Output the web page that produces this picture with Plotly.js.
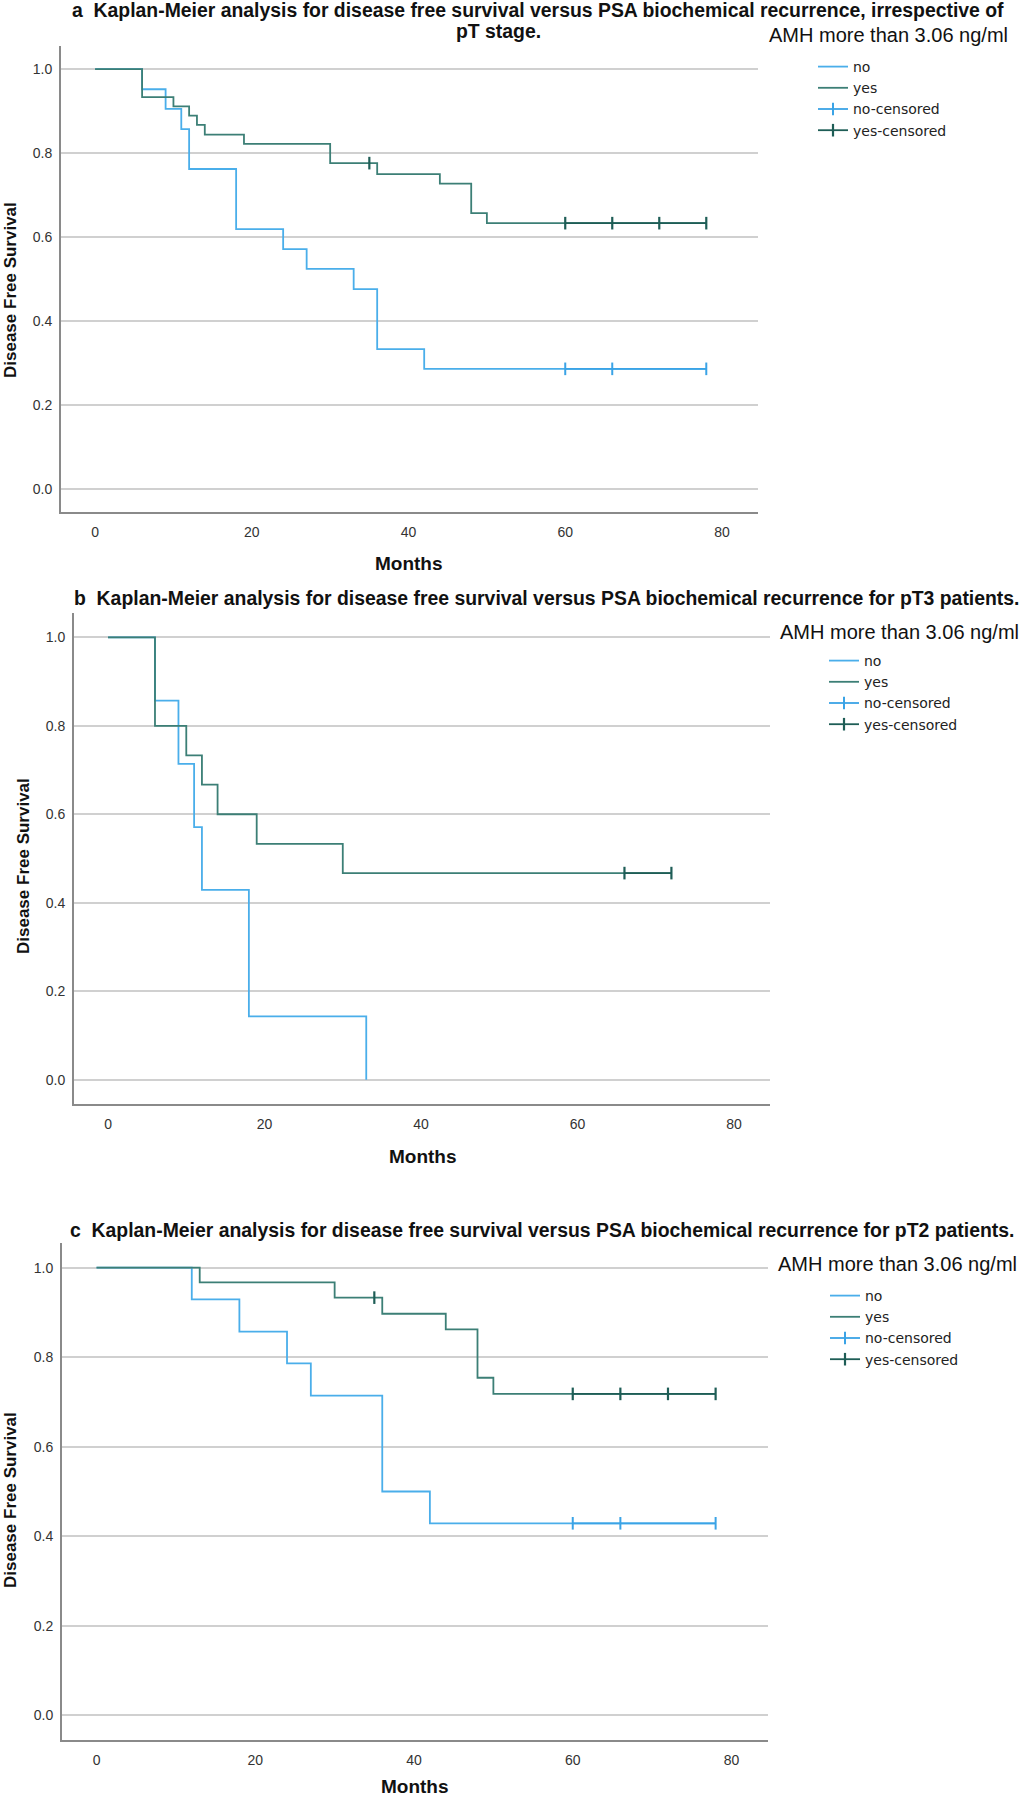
<!DOCTYPE html>
<html><head><meta charset="utf-8">
<script src="https://cdn.plot.ly/plotly-3.0.1.min.js"></script>
<style>body{margin:0;background:#fff}</style>
</head><body><div id="chart" style="width:1023px;height:1800px"></div>
<script>
// ---------- DATA ----------
// Panel a: irrespective of pT stage
const aNoTimes  = [6, 9, 11, 12, 18, 24, 27, 33, 36, 42];
const aNoSurv   = [0.952, 0.905, 0.857, 0.762, 0.619, 0.571, 0.524, 0.476, 0.333, 0.286];
const aNoCens   = [60, 66, 78];
const aYesTimes = [6, 10, 12, 13, 14, 19, 30, 36, 44, 48, 50];
const aYesSurv  = [0.933, 0.911, 0.889, 0.867, 0.844, 0.822, 0.776, 0.750, 0.727, 0.657, 0.633];
const aYesCens  = [35, 60, 66, 72, 78];
// Panel b: pT3 patients
const bNoTimes  = [6, 9, 11, 12, 18, 33];
const bNoSurv   = [0.857, 0.714, 0.571, 0.429, 0.143, 0.0];
const bNoCens   = [];
const bYesTimes = [6, 10, 12, 14, 19, 30];
const bYesSurv  = [0.800, 0.733, 0.667, 0.600, 0.533, 0.467];
const bYesCens  = [66, 72];
// Panel c: pT2 patients
const cNoTimes  = [12, 18, 24, 27, 36, 42];
const cNoSurv   = [0.929, 0.857, 0.786, 0.714, 0.500, 0.429];
const cNoCens   = [60, 66, 78];
const cYesTimes = [13, 30, 36, 44, 48, 50];
const cYesSurv  = [0.967, 0.933, 0.897, 0.862, 0.754, 0.718];
const cYesCens  = [35, 60, 66, 72, 78];

const xTicks = [0, 20, 40, 60, 80];
const yTicks = [0.0, 0.2, 0.4, 0.6, 0.8, 1.0];
const yTickText = ['0.0', '0.2', '0.4', '0.6', '0.8', '1.0'];
const groupNames = ['no', 'yes', 'no-censored', 'yes-censored'];
const legendTitle = 'AMH more than 3.06 ng/ml';
const titles = [
  'a\u00a0 Kaplan-Meier analysis for disease free survival versus PSA biochemical recurrence, irrespective of',
  'pT stage.',
  'b\u00a0 Kaplan-Meier analysis for disease free survival versus PSA biochemical recurrence for pT3 patients.',
  'c\u00a0 Kaplan-Meier analysis for disease free survival versus PSA biochemical recurrence for pT2 patients.'
];

// ---------- HELPERS ----------
const W = 1023, H = 1800;
const BLUE = '#4aaeea', GREEN = '#3c7f76', BLUE_C = '#3aa3e6', GREEN_C = '#1e5d56';

function survAt(times, surv, t) {
  let s = 1;
  for (let i = 0; i < times.length; i++) if (times[i] <= t) s = surv[i];
  return s;
}
function stepXY(times, surv, cens) {
  const x = [0].concat(times), y = [1].concat(surv);
  const lastT = times[times.length - 1];
  const end = cens.length ? Math.max.apply(null, cens) : lastT;
  if (end > lastT) { x.push(end); y.push(surv[surv.length - 1]); }
  return {x, y};
}
function censXY(times, surv, cens) {
  const x = [], y = [];
  let prev = null;
  cens.forEach(t => {
    const s = survAt(times, surv, t);
    if (prev !== null && s !== prev) { x.push(null); y.push(null); }
    x.push(t); y.push(s); prev = s;
  });
  return {x, y};
}

const traces = [];
function addPanel(idx, noT, noS, noC, yesT, yesS, yesC) {
  const xa = idx === 1 ? 'x' : 'x' + idx, ya = idx === 1 ? 'y' : 'y' + idx;
  const lg = idx === 1 ? 'legend' : 'legend' + idx;
  const sn = stepXY(noT, noS, noC), sy = stepXY(yesT, yesS, yesC);
  const cn = censXY(noT, noS, noC), cy = censXY(yesT, yesS, yesC);
  traces.push({x: sn.x, y: sn.y, xaxis: xa, yaxis: ya, legend: lg, name: groupNames[0], mode: 'lines',
    line: {shape: 'hv', color: BLUE, width: 1.8}, hoverinfo: 'x+y'});
  traces.push({x: sy.x, y: sy.y, xaxis: xa, yaxis: ya, legend: lg, name: groupNames[1], mode: 'lines',
    line: {shape: 'hv', color: GREEN, width: 1.8}, hoverinfo: 'x+y'});
  traces.push({x: cn.x.length ? cn.x : [null], y: cn.y.length ? cn.y : [null], xaxis: xa, yaxis: ya, legend: lg,
    name: groupNames[2], mode: 'lines+markers', connectgaps: false,
    line: {color: BLUE_C, width: 1.8}, marker: {symbol: 'line-ns', size: 9, line: {color: BLUE_C, width: 2}}});
  traces.push({x: cy.x, y: cy.y, xaxis: xa, yaxis: ya, legend: lg,
    name: groupNames[3], mode: 'lines+markers', connectgaps: false,
    line: {color: GREEN_C, width: 1.8}, marker: {symbol: 'line-ns', size: 9, line: {color: GREEN_C, width: 2.2}}});
}
addPanel(1, aNoTimes, aNoSurv, aNoCens, aYesTimes, aYesSurv, aYesCens);
addPanel(2, bNoTimes, bNoSurv, bNoCens, bYesTimes, bYesSurv, bYesCens);
addPanel(3, cNoTimes, cNoSurv, cNoCens, cYesTimes, cYesSurv, cYesCens);

const FONT = 'Liberation Sans, Arial, sans-serif';
function xAxis(l, r, anchor) {
  return {domain: [l / W, r / W], anchor: anchor, range: [-4.35, 84.6], tickvals: xTicks,
    showgrid: false, zeroline: false, showline: true, linecolor: '#8a8a8a', linewidth: 2,
    ticks: '', ticklabelstandoff: 6, tickfont: {family: FONT, size: 14, color: '#333'}, fixedrange: true};
}
function yAxis(top, bot, anchor) {
  return {domain: [1 - bot / H, 1 - top / H], anchor: anchor, range: [-0.055, 1.055], tickvals: yTicks, ticktext: yTickText,
    showgrid: true, gridcolor: '#d0d0d0', gridwidth: 2, zeroline: false, showline: true, linecolor: '#8a8a8a', linewidth: 2,
    ticks: '', ticklabelstandoff: 4, tickfont: {family: FONT, size: 14, color: '#333'}, fixedrange: true};
}
function legendAt(px, py) {
  return {x: px / W, y: 1 - py / H, xanchor: 'left', yanchor: 'top', bgcolor: 'rgba(0,0,0,0)',
    font: {family: 'DejaVu Sans, sans-serif', size: 14, color: '#222'}, tracegroupgap: 0, itemwidth: 30};
}
function ann(text, px, py, o) {
  return Object.assign({text: text, xref: 'paper', yref: 'paper', x: px / W, y: 1 - py / H,
    xanchor: 'center', yanchor: 'middle', showarrow: false,
    font: {family: FONT, size: 19, color: '#111'}}, o || {});
}
const bold = (s) => ({family: FONT, size: s, color: '#111', weight: 'bold'});
const amhFont = {family: FONT, size: 20, color: '#111'};

const layout = {
  width: W, height: H, margin: {l: 0, r: 0, t: 0, b: 0},
  paper_bgcolor: '#fff', plot_bgcolor: '#fff', showlegend: true,
  xaxis: xAxis(61, 758, 'y'), yaxis: yAxis(46, 512, 'x'),
  xaxis2: xAxis(74, 770, 'y2'), yaxis2: yAxis(613, 1104, 'x2'),
  xaxis3: xAxis(62, 768, 'y3'), yaxis3: yAxis(1243, 1740, 'x3'),
  legend: legendAt(813, 51), legend2: legendAt(824, 645), legend3: legendAt(825, 1280),
  annotations: [
    ann(titles[0], 538, 10, {font: bold(19.4)}),
    ann(titles[1], 498, 31, {font: bold(19.4)}),
    ann(legendTitle, 767, 35, {xanchor: 'left', font: amhFont}),
    ann('Months', 409, 563, {font: bold(19)}),
    ann('Disease Free Survival', 11, 290, {textangle: -90, font: bold(17)}),

    ann(titles[2], 547, 598, {font: bold(19.4)}),
    ann(legendTitle, 778, 632, {xanchor: 'left', font: amhFont}),
    ann('Months', 423, 1156, {font: bold(19)}),
    ann('Disease Free Survival', 24, 866, {textangle: -90, font: bold(17)}),

    ann(titles[3], 542, 1230, {font: bold(19.4)}),
    ann(legendTitle, 776, 1264, {xanchor: 'left', font: amhFont}),
    ann('Months', 415, 1799, {yanchor: 'bottom', font: bold(19)}),
    ann('Disease Free Survival', 10, 1500, {textangle: -90, font: bold(17)})
  ]
};
Plotly.newPlot('chart', traces, layout, {displayModeBar: false, staticPlot: true});
</script></body></html>
